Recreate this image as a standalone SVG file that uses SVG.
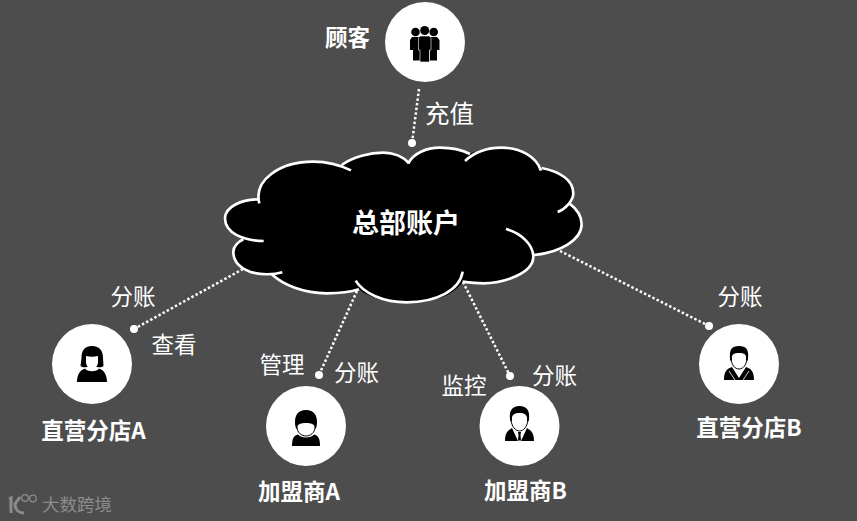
<svg xmlns="http://www.w3.org/2000/svg" width="857" height="521" viewBox="0 0 857 521">
<style>
.t{font-family:"Noto Sans CJK SC","Noto Sans",sans-serif;fill:#fff;font-size:22.5px;text-anchor:middle}
.b{font-weight:700}
.disc{fill:#fff}
.dot{fill:none;stroke:#fff;stroke-width:2.5;stroke-dasharray:2.5 2.2}
.end{fill:#fff}
.arc{fill:none;stroke:#fff;stroke-width:8;stroke-linecap:butt}
</style>
<rect width="857" height="521" fill="#4d4d4d"/>
<g id="connectors">
<path class="dot" d="M419 89L412 143"/><circle class="end" cx="412" cy="143" r="4"/>
<path class="dot" d="M243 269L134 329"/><circle class="end" cx="134" cy="329" r="4"/>
<path class="dot" d="M357 291L319 375"/><circle class="end" cx="319" cy="375" r="4"/>
<path class="dot" d="M463 282L510 376"/><circle class="end" cx="510" cy="376" r="4"/>
<path class="dot" d="M560 251L709 326"/><circle class="end" cx="709" cy="326" r="4"/>
</g>
<g id="cloud">
<g transform="translate(210 130) scale(.3333)">
<path fill="#000" d="M145 208C135 150 210 95 310 95C340 95 370 98 395 105C430 80 480 68 520 68C550 68 580 80 597 100C610 70 650 53 690 53C725 53 760 62 778 72C800 62 830 53 875 53C930 53 980 80 995 114C1050 125 1090 150 1090 190C1090 200 1085 212 1078 220C1105 240 1115 260 1115 283C1115 330 1050 368 970 375C970 430 880 460 820 460C800 460 780 458 758 455C730 495 680 517 590 517C530 517 480 505 447 478C420 487 380 490 350 490C280 490 220 465 185 433C160 435 140 432 120 425C85 412 70 390 70 365C70 350 85 335 100 328C70 320 45 295 45 265C45 230 95 208 145 208Z"/>
<path class="arc" d="M148 220C130 150 210 95 310 95C350 95 390 105 423 121"/>
<path class="arc" d="M395 105C430 80 480 68 520 68C550 68 580 80 597 100"/>
<path class="arc" d="M595 100C610 70 650 53 690 53C725 53 760 62 780 72"/>
<path class="arc" d="M765 93C790 70 830 53 875 53C930 53 980 80 993 122"/>
<path class="arc" d="M995 114C1050 125 1090 150 1090 190C1090 210 1070 235 1043 246"/>
<path class="arc" d="M1078 220C1105 240 1115 260 1115 283C1115 330 1050 368 972 375"/>
<path class="arc" d="M888 297C935 310 970 345 970 380C970 430 880 460 820 460C800 460 780 458 758 455"/>
<path class="arc" d="M758 425C750 480 680 517 590 517C520 517 460 490 437 452"/>
<path class="arc" d="M447 478C420 487 380 490 350 490C280 490 220 465 185 433"/>
<path class="arc" d="M217 427C190 435 150 435 120 425C85 412 70 390 70 365C70 350 85 335 100 328"/>
<path class="arc" d="M161 333C100 332 45 310 45 265C45 230 95 208 145 208"/>
</g>
<text class="t b" x="406" y="233" style="font-size:27px">总部账户</text>
</g>
<g id="customer">
<circle class="disc" cx="425" cy="42" r="40"/>
<g fill="#000">
<circle cx="415.500" cy="32" r="4.300"/><circle cx="433.700" cy="32" r="4.300"/>
<path d="M412 37H420V60.500H413V50H410V40ZM430 37H437L439.500 40V50H437V60.500H430Z"/>
<circle cx="424.700" cy="30.500" r="4.500"/>
<path d="M420 36H429.500L431 38V50H429.500V62H420V50H418.500V38Z" stroke="#fff" stroke-width=".6"/>
</g>
<text class="t b" x="347.500" y="46">顾客</text>
</g>
<text class="t" x="449.500" y="123" style="font-size:24.500px">充值</text>
<g id="store-a">
<circle class="disc" cx="92" cy="364" r="40"/>
<path fill="#000" d="M92 346C100 346 103 351 103 358L103.500 366C102 367.500 99 367.500 97 367H87C85 367.500 82 367.500 80.500 366L81.500 358C81.500 351 84 346 92 346Z"/>
<path fill="#fff" d="M86 356C90 357 94 357 98 356V362C98 366 95 369 92 369C89 369 86 366 86 362Z"/>
<path fill="#000" d="M85 368.500C87 372 97 372 99 368.500C104 370 107 375 107 382H77C77 375 80 370 85 368.500Z"/>
<text class="t b" x="93.500" y="439">直营分店A</text>
</g>
<text class="t" x="133" y="305">分账</text>
<text class="t" x="174" y="353">查看</text>
<g id="franchise-a">
<circle class="disc" cx="306" cy="426" r="40"/>
<path fill="#000" d="M306 410C314 410 317 415 317 422C317 426 316 429 315 429C315 425 313 423 306 423C299 423 297 425 297 429C296 429 295 426 295 422C295 415 298 410 306 410Z"/>
<path fill="none" stroke="#000" stroke-width="1" d="M297 427C297 433 302 436 306 436C310 436 315 433 315 427"/>
<path fill="#000" d="M298 434.500C301 438.500 311 438.500 314 434.500C318 435.500 320 438 320 446H292C292 438 294 435.500 298 434.500Z"/>
<text class="t b" x="299" y="500">加盟商A</text>
</g>
<text class="t" x="282" y="373">管理</text>
<text class="t" x="356.500" y="381">分账</text>
<g id="franchise-b">
<circle class="disc" cx="519.500" cy="426" r="40"/>
<path fill="#000" d="M519.500 406C527 406 530 411 529 419C529 421 528 422 527 421C528 414 524 413 519.500 413C515 413 511 414 512 421C511 422 510 421 510 419C509 411 512 406 519.500 406Z"/>
<path fill="none" stroke="#000" stroke-width="1" d="M511 418C511 427 516 431 519.500 431C523 431 528 427 528 418"/>
<path fill="#000" d="M512 428L518 441L517 441H505C505 434 507 431 512 428ZM527 428L521 441H534C534 434 532 431 527 428ZM518 432H521L520.500 435L521 440.500H518L518.500 435Z"/>
<text class="t b" x="525.500" y="499">加盟商B</text>
</g>
<text class="t" x="464" y="394">监控</text>
<text class="t" x="554.500" y="384">分账</text>
<g id="store-b">
<circle class="disc" cx="739" cy="364" r="40"/>
<path fill="#000" d="M739 346C746 346 749 349 748 359C748 361 747 361 746 360C747 354 744 353 739 353C734 353 731 354 732 360C731 361 730 361 730 359C729 349 732 346 739 346Z"/>
<path fill="none" stroke="#000" stroke-width="1" d="M731 357C731 365 735 369 739 369C743 369 747 365 747 357"/>
<path fill="#000" d="M732 367L739 378L746 367C751 369 754 371 754 380H724C724 371 727 369 732 367Z"/>
<path fill="none" stroke="#fff" stroke-width=".8" d="M729 371L735 380M749 371L743 380"/>
<text class="t b" x="749" y="436">直营分店B</text>
</g>
<text class="t" x="740" y="305">分账</text>
<g id="watermark">
<path fill="none" stroke="#8c8c8c" stroke-width="3" d="M9 499L11 498V513M20 497L15 504C15 510 19 513 24 513"/>
<circle cx="25" cy="498" r="3.300" fill="none" stroke="#8c8c8c" stroke-width="1.300"/><circle cx="33" cy="498.500" r="3.300" fill="none" stroke="#8c8c8c" stroke-width="1.300"/>
<text x="77" y="511" text-anchor="middle" style="font-family:'Noto Sans CJK SC',sans-serif;font-size:17.500px;fill:#8c8c8c">大数跨境</text>
</g>
</svg>
